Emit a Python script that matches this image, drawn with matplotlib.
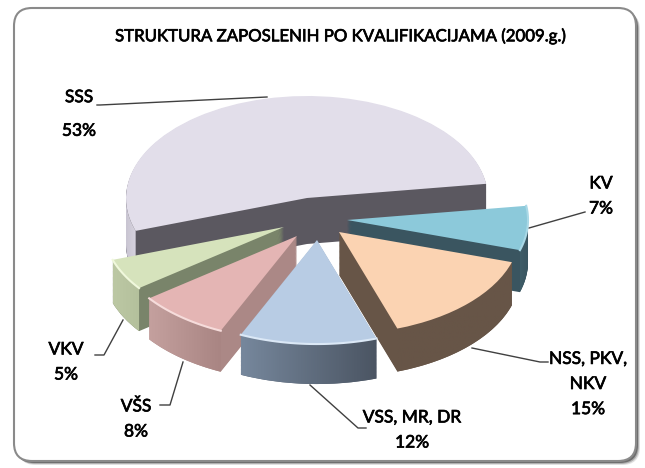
import numpy as np
import matplotlib
matplotlib.use('Agg')
import matplotlib.pyplot as plt
import matplotlib.patheffects as pe
from matplotlib.patches import FancyBboxPatch, Polygon
from matplotlib.colors import LinearSegmentedColormap

title = 'STRUKTURA ZAPOSLENIH PO KVALIFIKACIJAMA (2009.g.)'
labels = ['KV', 'NSS, PKV,\nNKV', 'VSS, MR, DR', 'VŠS', 'VKV', 'SSS']
values = [7, 15, 12, 8, 5, 53]
top_colors = ['#8cc9da', '#fbd3b2', '#b8cce4', '#e4b5b4', '#d6e3bc', '#e2deea']
side_colors = ['#3a5560', '#675547', '#55606f', '#ab8886', '#79846a', '#5b5860']

# pixel places on the picture
pie_center = (307, 198)
rx, ry = 181, 102
apex = [(347, 220), (339, 232), (317, 240), (297, 236), (284, 227), (307, 198)]
radius = [1.0, 1.0, 1.02, 1.02, 1.0, 1.0]
depth = [42, 43, 40, 41, 43, 46]
draw_order = [5, 0, 4, 3, 1, 2]  # back slices first
n_layers = 50

label_pos = [(601, 196), (588, 384), (412, 430), (136, 419), (66, 362), (79, 114)]
line_gap = [1.7, 1.7, 1.7, 1.7, 1.7, 2.35]
leaders = [[(529, 228), (585, 212)],
           [(472, 348), (540, 362), (548, 362)],
           [(310, 385), (358, 428), (366, 428)],
           [(183, 362), (170, 405), (160, 405)],
           [(123, 320), (104, 355), (95, 355)],
           [(267, 97), (100, 105), (97, 105)]]

plt.rcParams['font.family'] = ['Lato', 'DejaVu Sans']
fig = plt.figure(figsize=(6.45, 4.68), dpi=100)
ax = fig.add_axes([0, 0, 1, 1])
ax.set_xlim(0, 645)
ax.set_ylim(468, 0)
ax.axis('off')

# frame, darker to the lower right
for off, c in [(4, '#e0e0e0'), (3, '#b0b0b0'), (2, '#6e6e6e'), (1, '#6e6e6e')]:
    ax.add_patch(FancyBboxPatch((14 + off, 8 + off), 622, 453, boxstyle='round,pad=0,rounding_size=18',
                                fc=c, ec='none', zorder=1))
ax.add_patch(FancyBboxPatch((14, 8), 622, 453, boxstyle='round,pad=0,rounding_size=18',
                            fc='white', ec='#8a8a8a', lw=1.5, zorder=2))

for line in leaders:
    xs, ys = zip(*line)
    ax.plot(xs, ys, color='#404040', lw=1, zorder=3)

pie_ax = fig.add_axes([0, 0, 1, 1], zorder=3)
pie_ax.patch.set_alpha(0)


def to_unit(px, py):
    return (px - pie_center[0]) / rx, (pie_center[1] - py) / ry


def wall(w, t1, t2, d, c1, c2, z):
    t = np.radians(np.linspace(t1, t2, 60))
    cx, cy = w.center
    r = w.r
    x = cx + r * np.cos(t)
    y = cy + r * np.sin(t)
    pts = np.r_[np.c_[x, y], np.c_[x[::-1], y[::-1] - d / ry]]
    poly = Polygon(pts, fc='none', ec='none', transform=pie_ax.transData)
    pie_ax.add_patch(poly)
    cmap = LinearSegmentedColormap.from_list('w', [c1, c2])
    im = pie_ax.imshow(np.linspace(0, 1, 64)[None, :], cmap=cmap, aspect='auto', zorder=z,
                       extent=(x.min(), x.max(), y.min() - d / ry, y.max() + 0.01))
    im.set_clip_path(poly)


top = None
for layer in range(n_layers + 1):
    colors = top_colors if layer == n_layers else side_colors
    wedges, _ = pie_ax.pie(values, colors=colors, startangle=8, counterclock=False)
    for n, w in enumerate(wedges):
        cx, cy = to_unit(*apex[n])
        w.set_center((cx, cy - depth[n] * (n_layers - layer) / n_layers / ry))
        w.set_radius(radius[n])
        w.set_zorder(draw_order.index(n) * 100 + layer)
    top = wedges

# shaded outer walls and light rims
wall_colors = {2: ('#76879c', '#4b5563'), 3: ('#c4a09e', '#a98583'), 4: ('#bcc8a4', '#b4c09c'),
               1: ('#675547', '#675547'), 0: ('#3f5d68', '#3a5560')}
rim_colors = {0: '#a9d8e6', 2: '#dbe8f6', 3: '#f6dcdb', 4: '#f0f8dc'}
for n, c in wall_colors.items():
    w = top[n]
    z = draw_order.index(n) * 100
    wall(w, w.theta1, w.theta2, depth[n], c[0], c[1], z + n_layers - 0.5)
    if n in rim_colors:
        t = np.radians(np.linspace(w.theta1, w.theta2, 60))
        pie_ax.plot(w.center[0] + w.r * np.cos(t), w.center[1] + w.r * np.sin(t),
                    color=rim_colors[n], lw=1.5, zorder=z + n_layers + 1)
# left end of the big slice has a pale wall
w = top[5]
wall(w, 180, w.theta2 + 360, depth[5], '#c9c5d2', '#d6d2de', n_layers - 0.5)

pie_ax.set_aspect('auto')
pie_ax.set_xlim(to_unit(0, 0)[0], to_unit(645, 0)[0])
pie_ax.set_ylim(to_unit(0, 468)[1], to_unit(0, 0)[1])
pie_ax.set_axis_off()

# a thin stroke, the reference text is heavier than regular Lato
heavy = [pe.withStroke(linewidth=0.5, foreground='black')]
ax.text(339, 36, title, ha='center', va='center', fontsize=12.1, color='black', zorder=10, path_effects=heavy)
for lab, val, pos, gap in zip(labels, values, label_pos, line_gap):
    ax.text(pos[0], pos[1], '{}\n{}%'.format(lab, val), ha='center', va='center', fontsize=12.5,
            color='black', linespacing=gap, zorder=10, path_effects=heavy)

fig.savefig('out.png', dpi=100)
